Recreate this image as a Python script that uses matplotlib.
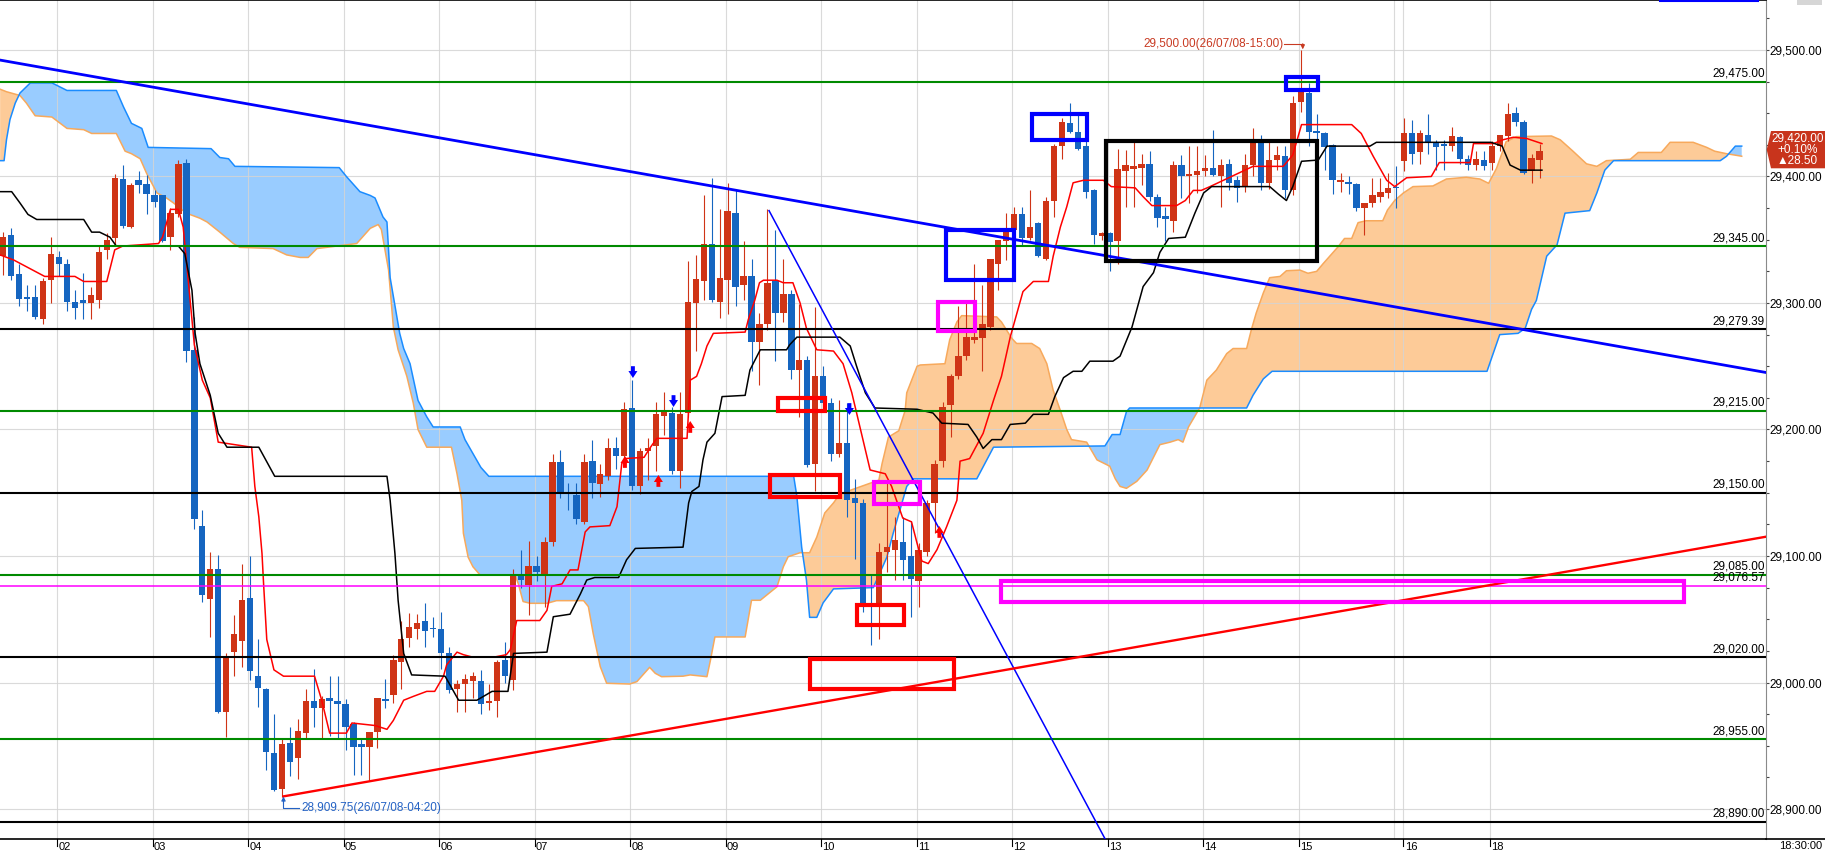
import numpy as np
import matplotlib
matplotlib.use("Agg")
import matplotlib.pyplot as plt
import matplotlib.transforms as mtransforms
from matplotlib.patches import Rectangle, Polygon
from matplotlib.lines import Line2D
from matplotlib.ticker import MultipleLocator, FuncFormatter

plt.rcParams["font.family"] = ["Liberation Sans", "DejaVu Sans"]

# 5-minute bars, 26/07/08 01:25 .. 18:30
opens = [
    29337, 29354, 29323, 29305, 29305, 29287, 29318, 29336, 29331, 29301,
    29302, 29300, 29302, 29342, 29351, 29398, 29360, 29397, 29394, 29385,
    29385, 29352, 29370, 29411, 29263, 29124, 29066, 29090, 28977, 29024,
    29033, 29067, 29005, 28995, 28944, 28916, 28952, 28940, 28960, 28985,
    28980, 28988, 28985, 28983, 28967, 28951, 28949, 28961, 28987, 28990,
    29016, 29035, 29042, 29049, 29043, 29042, 29023, 28995, 28999, 29001,
    29001, 28984, 28985, 29018, 29002, 29086, 29077, 29092, 29085, 29111,
    29174, 29150, 29148, 29127, 29175, 29157, 29163, 29185, 29179, 29217,
    29155, 29183, 29187, 29211, 29213, 29167, 29213, 29300, 29317, 29347,
    29301, 29318, 29371, 29314, 29321, 29269, 29283, 29317, 29292, 29307,
    29247, 29255, 29173, 29242, 29221, 29181, 29189, 29146, 29142, 29063,
    29063, 29103, 29105, 29111, 29100, 29080, 29103, 29142, 29175, 29219,
    29242, 29258, 29271, 29272, 29281, 29331, 29349, 29358, 29370, 29351,
    29363, 29335, 29381, 29424, 29442, 29435, 29424, 29389, 29353, 29355,
    29349, 29404, 29406, 29407, 29410, 29384, 29369, 29365, 29409, 29400,
    29401, 29404, 29407, 29400, 29410, 29397, 29392, 29409, 29428, 29395,
    29413, 29416, 29389, 29459, 29466, 29436, 29434, 29425, 29396, 29396,
    29394, 29375, 29379, 29384, 29387, 29392, 29412, 29434, 29419, 29433,
    29427, 29426, 29424, 29431, 29414, 29409, 29413, 29411, 29424, 29432,
    29450, 29443, 29404, 29413,
]
highs = [
    29356, 29359, 29331, 29314, 29314, 29320, 29352, 29341, 29335, 29310,
    29324, 29313, 29346, 29355, 29402, 29409, 29395, 29404, 29401, 29389,
    29385, 29375, 29413, 29414, 29289, 29136, 29103, 29101, 29023, 29053,
    29094, 29100, 29034, 28996, 28975, 28955, 28965, 28971, 28995, 29011,
    28989, 29005, 29005, 28987, 28969, 28955, 28961, 28988, 29003, 29022,
    29049, 29055, 29054, 29063, 29052, 29056, 29028, 29002, 29007, 29008,
    29010, 28999, 29018, 29032, 29090, 29105, 29112, 29100, 29115, 29181,
    29184, 29158, 29158, 29181, 29192, 29173, 29193, 29194, 29222, 29239,
    29185, 29193, 29222, 29230, 29218, 29230, 29333, 29338, 29385, 29399,
    29374, 29395, 29389, 29349, 29335, 29292, 29374, 29358, 29335, 29310,
    29299, 29258, 29297, 29250, 29225, 29223, 29221, 29161, 29145, 29085,
    29110, 29160, 29131, 29131, 29128, 29110, 29144, 29176, 29222, 29244,
    29298, 29300, 29331, 29314, 29335, 29350, 29371, 29376, 29376, 29389,
    29364, 29384, 29426, 29446, 29458, 29450, 29428, 29390, 29356, 29356,
    29422, 29421, 29428, 29418, 29420, 29386, 29376, 29412, 29417, 29424,
    29424, 29417, 29437, 29414, 29414, 29400, 29418, 29438, 29433, 29428,
    29424, 29424, 29464, 29500, 29474, 29449, 29435, 29426, 29403, 29400,
    29395, 29379, 29399, 29399, 29403, 29408, 29446, 29445, 29437, 29449,
    29429, 29429, 29439, 29432, 29417, 29420, 29420, 29428, 29433, 29458,
    29455, 29445, 29418, 29426,
]
lows = [
    29322, 29318, 29298, 29294, 29287, 29283, 29300, 29321, 29294, 29287,
    29287, 29287, 29296, 29335, 29346, 29359, 29359, 29387, 29370, 29376,
    29348, 29342, 29368, 29253, 29121, 29064, 29036, 28976, 28957, 29005,
    29012, 29002, 28981, 28931, 28914, 28909.75, 28926, 28924, 28955, 28965,
    28955, 28958, 28955, 28947, 28927, 28927, 28922, 28948, 28980, 28984,
    28995, 29028, 29034, 29028, 29036, 29011, 28992, 28977, 28977, 28988,
    28975, 28978, 28973, 29000, 28994, 29075, 29053, 29080, 29060, 29108,
    29146, 29136, 29125, 29125, 29146, 29147, 29160, 29169, 29171, 29152,
    29149, 29160, 29167, 29196, 29165, 29154, 29210, 29262, 29302, 29301,
    29288, 29291, 29298, 29302, 29246, 29235, 29279, 29254, 29285, 29240,
    29210, 29170, 29151, 29215, 29175, 29178, 29131, 29098, 29056, 29030,
    29034, 29087, 29081, 29081, 29052, 29060, 29100, 29118, 29170, 29194,
    29240, 29255, 29268, 29246, 29279, 29310, 29334, 29356, 29345, 29350,
    29336, 29334, 29368, 29414, 29434, 29421, 29383, 29347, 29350, 29325,
    29331, 29376, 29376, 29393, 29381, 29360, 29349, 29356, 29383, 29379,
    29387, 29400, 29400, 29376, 29389, 29380, 29388, 29400, 29389, 29390,
    29405, 29383, 29385, 29451, 29424, 29425, 29405, 29386, 29388, 29386,
    29373, 29354, 29376, 29380, 29383, 29375, 29404, 29410, 29410, 29418,
    29405, 29405, 29420, 29410, 29405, 29405, 29405, 29405, 29420, 29428,
    29440, 29402, 29395, 29399,
]
closes = [
    29352, 29321, 29303, 29303, 29289, 29317, 29339, 29331, 29301, 29296,
    29300, 29306, 29340, 29350, 29399, 29361, 29393, 29393, 29386, 29380,
    29349, 29371, 29410, 29262, 29129, 29069, 29090, 28977, 29020, 29038,
    29065, 29009, 28996, 28945, 28915, 28951, 28937, 28962, 28985, 28980,
    28987, 28985, 28983, 28965, 28949, 28949, 28961, 28988, 28985, 29018,
    29034, 29044, 29047, 29041, 29042, 29023, 28994, 28999, 29003, 29005,
    28983, 28985, 29016, 29005, 29086, 29081, 29092, 29087, 29111, 29174,
    29150, 29149, 29129, 29174, 29158, 29165, 29185, 29179, 29216, 29155,
    29183, 29185, 29212, 29214, 29167, 29212, 29301, 29319, 29347, 29302,
    29320, 29373, 29313, 29321, 29269, 29283, 29316, 29292, 29307, 29247,
    29255, 29172, 29242, 29221, 29181, 29189, 29144, 29142, 29063, 29060,
    29103, 29107, 29113, 29097, 29082, 29105, 29142, 29173, 29218, 29242,
    29258, 29273, 29273, 29283, 29335, 29350, 29357, 29370, 29351, 29360,
    29337, 29381, 29424, 29443, 29435, 29422, 29388, 29354, 29355, 29348,
    29406, 29409, 29408, 29410, 29384, 29367, 29366, 29409, 29400, 29402,
    29404, 29407, 29401, 29409, 29395, 29391, 29409, 29428, 29395, 29413,
    29417, 29389, 29458, 29467, 29435, 29434, 29423, 29397, 29397, 29394,
    29375, 29379, 29385, 29388, 29391, 29391, 29434, 29418, 29434, 29427,
    29423, 29424, 29432, 29414, 29409, 29414, 29408, 29424, 29433, 29449,
    29443, 29403, 29415, 29420,
]

hour_labels = ["02", "03", "04", "05", "06", "07", "08", "09", "10",
               "11", "12", "13", "14", "15", "16", "18"]
hour_bars = [6.75, 18.75, 30.75, 42.75, 54.75, 66.75, 78.75, 90.75, 102.75,
             114.75, 126.75, 138.75, 150.75, 162.75, 175.9, 186.75]

# ichimoku lines (bar, price)
tenkan_bars = [-0.4, 1.3, 4, 5.2, 9, 10.1, 13, 14, 15, 19.5, 20, 21, 22, 22.6, 24, 25, 26, 27,
               31.2, 31.6, 32.1, 32.5, 32.7, 33.1, 34, 35.2, 39.1, 40, 41, 43.1, 43.8, 46.7,
               48.2, 49, 50.3, 51.5, 53.2, 54.2, 55.3, 55.7, 57, 57.8, 59, 61.6, 63.2, 63.7,
               64.5, 67.4, 68.3, 68.9, 70.2, 71.2, 72.2, 73.1, 73.7, 76.2, 77.1, 77.7, 78.1,
               80.5, 81.2, 82.1, 85.9, 86.3, 87.1, 87.7, 88.4, 89.2, 93.2, 93.6, 94.4, 95,
               95.5, 97.2, 98, 99.2, 100.1, 100.9, 102.2, 104.3, 105.5, 106.6, 108.9, 110.8,
               111.6, 113, 114.1, 114.8, 115.4, 116.2, 117.3, 118.5, 119.8, 120.2, 121.4, 122,
               123.1, 124.4, 125.4, 126.5, 128.1, 129.4, 131.3, 131.9, 132.8, 133.6, 134.4,
               135.7, 138.2, 139.2, 142.2, 143.2, 144.3, 147.4, 148.5, 149.5, 150.5, 151.6,
               157, 160.8, 162, 163.1, 169.4, 170.6, 172.1, 173.8, 174.8, 176.3, 179.4, 180.4,
               184.3, 184.7, 187.2, 188.4, 189.7, 191.4, 193.3]
tenkan_vals = [29338, 29334, 29325, 29321, 29321, 29317, 29317, 29342, 29345, 29347, 29352,
               29374, 29374, 29360, 29267, 29239, 29225, 29190, 29186, 29155, 29131, 29102,
               29078, 29034, 29010, 29005, 29005, 28986, 28960, 28960, 28968, 28966, 28963,
               28970, 28986, 28989, 28993, 28993, 29005, 29014, 29024, 29022, 29020, 29020,
               29022, 29026, 29049, 29049, 29057, 29076, 29078, 29089, 29089, 29119, 29123,
               29124, 29139, 29173, 29177, 29178, 29185, 29193, 29193, 29239, 29242, 29252,
               29266, 29276, 29277, 29287, 29302, 29316, 29318, 29318, 29316, 29316, 29300,
               29280, 29263, 29262, 29252, 29229, 29168, 29165, 29155, 29130, 29127, 29110,
               29096, 29094, 29105, 29123, 29144, 29175, 29177, 29184, 29197, 29223, 29242,
               29273, 29309, 29317, 29317, 29337, 29360, 29376, 29395, 29397, 29397, 29392,
               29391, 29384, 29377, 29377, 29381, 29389, 29389, 29392, 29408, 29408, 29417,
               29441, 29441, 29434, 29416, 29397, 29392, 29399, 29400, 29411, 29411, 29426,
               29426, 29429, 29431, 29430, 29426]

kijun_bars = [-0.4, 1.05, 2.1, 3.1, 4.2, 10.1, 11.1, 12.1, 13.4, 14.2, 22, 22.8, 23.7, 24.1,
              24.7, 26, 27, 28.1, 32.1, 34.1, 48.2, 48.6, 49.2, 49.6, 50.3, 51.3, 55.5, 57.2,
              59.5, 61.4, 63.4, 64.1, 68.3, 69.1, 71.2, 72.5, 73.3, 74.3, 77.3, 78.3, 79.4,
              85.4, 86.1, 86.5, 87.4, 87.9, 88.4, 89.4, 90.3, 93.2, 93.8, 94.2, 95.1, 98.4,
              98.8, 99.7, 105.1, 106.4, 107.2, 108.3, 109.5, 114.8, 116.8, 117.9, 121.2,
              122.3, 123.1, 124.2, 125.4, 126.5, 128.4, 129.4, 131.3, 132.1, 133.2, 134.4,
              135.5, 136.5, 139.4, 140.3, 141.8, 143.2, 144.5, 145.3, 146.4, 148.5, 149.7,
              150.8, 151.8, 159.1, 160.2, 161.2, 162, 163.1, 165.2, 166.3, 171.7, 172.5,
              186.9, 188.3, 189.3, 190.6, 193.3]
kijun_vals = [29388, 29388, 29379, 29370, 29366, 29366, 29356, 29356, 29352, 29345, 29345,
              29339, 29310, 29276, 29252, 29227, 29197, 29186, 29186, 29163, 29163, 29144,
              29102, 29065, 29023, 29006, 29005, 28986, 28986, 28993, 28993, 29023, 29024,
              29052, 29054, 29070, 29081, 29083, 29083, 29097, 29106, 29107, 29142, 29151,
              29155, 29176, 29190, 29197, 29226, 29227, 29247, 29252, 29263, 29263, 29267,
              29273, 29273, 29266, 29250, 29229, 29217, 29216, 29213, 29205, 29204, 29194,
              29185, 29192, 29192, 29204, 29205, 29212, 29212, 29226, 29241, 29246, 29246,
              29254, 29254, 29258, 29281, 29313, 29324, 29340, 29351, 29352, 29371, 29387,
              29392, 29392, 29386, 29381, 29392, 29412, 29413, 29424, 29424, 29427, 29427,
              29424, 29409, 29405, 29405]

span_a_bars = [-0.4, 0.4, 2.1, 2.9, 4, 6.1, 8, 10.1, 11.1, 14.2, 15.3, 16.1, 17.2, 18, 19.3,
               20.5, 21.4, 23, 24.7, 25.6, 27.2, 28.9, 29.7, 33.9, 35.6, 37.3, 38.3, 39.4,
               44.4, 46.1, 47.1, 47.5, 48.4, 49, 49.6, 50.7, 51.5, 52.1, 53.2, 56.3, 57, 57.6,
               57.8, 58.4, 59, 59.9, 64.3, 64.7, 65.3, 66.2, 68.3, 69.5, 72.9, 73.5, 74.1, 75,
               75.8, 78.7, 79.6, 81.2, 81.9, 82.7, 85.4, 86.3, 88.4, 88.8, 89.4, 93.2, 94,
               95.1, 97.2, 98, 98.6, 100.1, 101.3, 102.2, 103.2, 104.3, 105.1, 110, 110.4,
               111.2, 112.5, 113.3, 113.5, 114.8, 115.2, 118.3, 118.9, 119.8, 120.4, 124.8,
               125.4, 126.7, 127.3, 129.2, 130.2, 131.1, 131.9, 132.8, 133.6, 134.2, 136.1,
               137.4, 139, 139.7, 140.3, 141.1, 142.4, 143.7, 145.3, 146.6, 147.6, 148.2,
               148.9, 150.3, 151.2, 152.4, 153.7, 154.5, 156.2, 156.8, 157.4, 158.3, 159.1,
               160.4, 161.2, 162.9, 163.9, 165, 165.8, 167.7, 168.5, 169.4, 170.2, 171.2,
               173.3, 173.9, 174.8, 175.9, 177.1, 179.6, 181.3, 183.8, 185.5, 186.6, 187.6,
               188.8, 190.1, 194.5, 195.6, 197.2, 198.9, 200.2, 201.4, 204.4, 205.4, 208.3,
               209.4, 212.3, 214, 215, 216.5, 218.4]
span_a_vals = [29469, 29467, 29464, 29458, 29448, 29447, 29438, 29437, 29434, 29434, 29420,
               29418, 29414, 29402.5, 29387, 29383, 29379, 29371, 29367, 29364, 29356, 29347,
               29344, 29343, 29338, 29336, 29336, 29343, 29347, 29359, 29362, 29358, 29326,
               29281, 29263, 29242, 29221, 29200, 29186, 29186, 29165, 29144, 29118, 29099,
               29091.5, 29085, 29085, 29078, 29064, 29062.6, 29062.6, 29064.7, 29064.7,
               29060, 29039, 29012.5, 28999.4, 28998.8, 29000.7, 29012, 29007.3, 29004.6,
               29005, 29006, 29004.6, 29016.4, 29036, 29036, 29065, 29065, 29075.7, 29091.5,
               29099.4, 29102.6, 29102.6, 29115, 29134, 29142, 29149, 29160, 29173, 29194,
               29199, 29215, 29229, 29250, 29251, 29252, 29271, 29285, 29290, 29289, 29285,
               29272, 29268, 29268, 29264, 29252, 29231, 29215, 29200, 29192, 29190, 29176,
               29171, 29161, 29155, 29153.5, 29159, 29168, 29188, 29190, 29192, 29190, 29202,
               29217, 29239, 29247, 29260, 29264, 29264, 29279, 29292, 29308, 29320, 29321,
               29325.5, 29326, 29323.5, 29325, 29331, 29344.5, 29351, 29351, 29363.5, 29365,
               29365, 29373.5, 29381, 29387, 29392, 29392.5, 29398, 29399.4, 29398, 29394.6,
               29406.5, 29427.5, 29431.5, 29432, 29429, 29420, 29410, 29408, 29412.5, 29413.6,
               29419, 29419, 29427, 29427, 29423, 29420, 29418, 29416]

span_b_bars = [-0.4, 0.1, 0.4, 0.84, 1.5, 2.1, 3.4, 6.1, 8, 14.2, 15.1, 16.1, 17.4, 18.2,
               26.1, 27.2, 28.3, 29.1, 42.2, 43.1, 44.8, 46.1, 46.7, 47.7, 48.2, 48.6, 49.8,
               50.3, 51.1, 52.1, 53.2, 54, 57.4, 58, 59, 60, 61, 99.3, 99.7, 100.3, 100.9,
               101.3, 102.2, 103, 104.3, 109.3, 111, 111.8, 113.5, 114.3, 122.3, 124.4, 138.4,
               139.3, 140.3, 141.1, 141.5, 156.2, 157, 158.3, 159.4, 186.4, 188, 190.3, 191.2,
               192, 192.6, 193.9, 195.2, 196.2, 199.3, 200.2, 201.2, 202.3, 215.7, 216.5,
               217.6, 218.4]
span_b_vals = [29412.5, 29412.5, 29429, 29445, 29458, 29466, 29474, 29474, 29468, 29468,
               29455, 29442, 29438, 29423, 29422, 29415, 29414, 29408, 29407, 29400, 29388,
               29385, 29383, 29368, 29364, 29320, 29276, 29264, 29252, 29223, 29210, 29202,
               29202, 29192, 29181, 29170, 29163, 29163, 29147, 29107, 29081, 29051.5,
               29051.5, 29063, 29074, 29075, 29099, 29118, 29155, 29161, 29161, 29186, 29187,
               29196, 29196, 29214, 29217, 29217, 29227, 29240, 29246, 29246, 29275, 29276,
               29280, 29295, 29302, 29337, 29346, 29371, 29373, 29387, 29405, 29412.5,
               29412.5, 29416, 29424, 29424]

green_levels = [29475, 29345, 29215, 29085, 28955]
black_levels = [29279.39, 29150, 29020, 28890]
magenta_levels = [29076.57]

# drawn trend lines (bar, price)
resist_bars, resist_vals = [-0.4, 221.5], [29492, 29245]
drop_bars, drop_vals = [96.2, 141.0], [29373, 28846]
support_bars, support_vals = [35.2, 221.5], [28910, 29115.3]

# drawn boxes: bar0, bar1, price low, price high
blue_boxes = [(161.2, 165.2, 29468, 29479), (129.2, 136.2, 29428.5, 29449),
              (118.4, 127.0, 29318, 29358)]
black_boxes = [(138.5, 165.1, 29333.5, 29428)]
red_boxes = [(97.3, 103.2, 29215, 29224.5), (96.3, 105.1, 29146.5, 29164),
             (107.3, 113.2, 29045.5, 29061.5), (101.3, 119.4, 28994.5, 29018.5)]
magenta_boxes = [(117.4, 122.1, 29277.5, 29301), (109.4, 115.2, 29141, 29158.5),
                 (125.4, 211.2, 29064, 29080.5)]

up_sig_bars, up_sig_vals = [78.1, 82.3, 86.3, 117.6], [29179, 29164, 29206.7, 29123.7]
down_sig_bars, down_sig_vals = [79.1, 84.2, 106.3], [29240.7, 29217.8, 29211.5]

UP = "#cf3416"
DOWN = "#1565c0"
FS = 8.5

fig = plt.figure(figsize=(18.25, 8.57), dpi=100)
ax = fig.add_axes([0, 18 / 857, 1766 / 1825, 839 / 857])
ax.set_xlim(-0.415, 221.45)
ax.set_ylim(28876.3, 29539.5)

# grid
for k in range(16):
    ax.axvline(6.75 + 12 * k, color="#d4d4d4", lw=0.8, zorder=1.5, alpha=0.85)
ax.axvline(175.9, color="#d4d4d4", lw=0.8, zorder=1.5, alpha=0.85)
for p in range(28900, 29600, 100):
    ax.axhline(p, color="#d4d4d4", lw=0.8, zorder=1.5, alpha=0.85)

# cloud
gx = np.linspace(span_a_bars[0], span_a_bars[-1], 5000)
sa = np.interp(gx, span_a_bars, span_a_vals)
sb = np.interp(gx, span_b_bars, span_b_vals)
ax.fill_between(gx, sa, sb, where=sa >= sb, interpolate=True, color="#fdcb98", lw=0, zorder=1)
ax.fill_between(gx, sa, sb, where=sb > sa, interpolate=True, color="#99ccff", lw=0, zorder=1)
ax.plot(span_a_bars, span_a_vals, color="#f7a95c", lw=1.1, zorder=2)
ax.plot(span_b_bars, span_b_vals, color="#1a8cff", lw=1.1, zorder=2)

# candles
o = np.array(opens, float)
h = np.array(highs, float)
l = np.array(lows, float)
c = np.array(closes, float)
x = np.arange(len(o))
cols = np.where(c >= o, UP, DOWN)
ax.vlines(x, l, h, colors=cols, lw=0.8, zorder=3)
ax.bar(x, np.maximum(np.abs(c - o), 1.0), bottom=np.minimum(o, c), width=0.8,
       color=cols, linewidth=0, zorder=3.1)

ax.plot(tenkan_bars, tenkan_vals, color="#ff0000", lw=1.1, zorder=4)
ax.plot(kijun_bars, kijun_vals, color="black", lw=1.1, zorder=4)

# level lines + labels
lab_tr = mtransforms.blended_transform_factory(ax.transAxes, ax.transData) + \
    mtransforms.ScaledTranslation(-0.01, 0.02, fig.dpi_scale_trans)
for levels, col, lw in [(green_levels, "#008a00", 1.5), (black_levels, "black", 1.5),
                        (magenta_levels, "#ff00ff", 1.1)]:
    for lv in levels:
        ax.axhline(lv, color=col, lw=lw, zorder=5)
        ax.text(1.0, lv, f"{lv:,.2f}", transform=lab_tr, ha="right", va="bottom",
                fontsize=FS, color="black", zorder=9)

# trend lines
ax.plot(resist_bars, resist_vals, color="#0000ff", lw=2.0, zorder=6)
ax.plot(drop_bars, drop_vals, color="#0000ff", lw=1.1, zorder=6)
ax.plot(support_bars, support_vals, color="#ff0000", lw=1.7, zorder=6)

# boxes
for boxes, col in [(blue_boxes, "#0000ff"), (black_boxes, "black"),
                   (red_boxes, "#ff0000"), (magenta_boxes, "#ff00ff")]:
    for b0, b1, p0, p1 in boxes:
        ax.add_patch(Rectangle((b0, p0), b1 - b0, p1 - p0, fill=False, edgecolor=col,
                               lw=3.0, zorder=7, joinstyle="miter"))

# signal arrows
arrow_kw = dict(arrowstyle="simple,head_length=0.5,head_width=0.65,tail_width=0.28",
                mutation_scale=10, shrinkA=0, shrinkB=0, lw=0)
for bx, pv in zip(up_sig_bars, up_sig_vals):
    ax.annotate("", xy=(bx, pv), xytext=(0, -8.5), textcoords="offset points",
                arrowprops=dict(color="#ff0000", **arrow_kw), zorder=8)
for bx, pv in zip(down_sig_bars, down_sig_vals):
    ax.annotate("", xy=(bx, pv), xytext=(0, 8.5), textcoords="offset points",
                arrowprops=dict(color="#0000ff", **arrow_kw), zorder=8)

# high / low notes
hi_col = "#c83a22"
ax.text(160.9, 29504.7, "29,500.00(26/07/08-15:00)", ha="right", va="center",
        fontsize=FS, color=hi_col, zorder=9)
ax.plot([160.95, 163.25], [29504.7, 29504.7], color=hi_col, lw=0.8, zorder=9)
ax.annotate("", xy=(163.25, 29500.5), xytext=(163.25, 29504.9),
            arrowprops=dict(arrowstyle="-|>", mutation_scale=6, color=hi_col, lw=0.8,
                            shrinkA=0, shrinkB=0), zorder=9)
lo_col = "#2462c4"
ax.plot([35.2, 35.2, 37.1], [28907, 28900.8, 28900.8], color=lo_col, lw=0.8, zorder=9)
ax.annotate("", xy=(35.2, 28909.9), xytext=(35.2, 28904.5),
            arrowprops=dict(arrowstyle="-|>", mutation_scale=6, color=lo_col, lw=0.8,
                            shrinkA=0, shrinkB=0), zorder=9)
ax.text(37.4, 28901, "28,909.75(26/07/08-04:20)", ha="left", va="center",
        fontsize=FS, color=lo_col, zorder=9)

# axes frame
ax.spines["left"].set_visible(False)
ax.spines["top"].set_color("black")
ax.spines["top"].set_linewidth(1.2)
ax.spines["bottom"].set_color("black")
ax.spines["bottom"].set_linewidth(1.2)
ax.spines["right"].set_color("#8a8a8a")
ax.spines["right"].set_linewidth(0.8)

ax.yaxis.tick_right()
ax.yaxis.set_major_locator(MultipleLocator(100))
ax.yaxis.set_minor_locator(MultipleLocator(25))
ax.yaxis.set_major_formatter(FuncFormatter(lambda v, _: f"{v:,.2f}"))
ax.tick_params(axis="y", which="both", length=2.2, width=0.8, color="#444444")
ax.tick_params(axis="y", which="major", labelsize=FS, pad=0.6)

ax.set_xticks([])
xt = mtransforms.blended_transform_factory(ax.transData, ax.transAxes)
for pos, lab in zip(hour_bars, hour_labels):
    ax.plot([pos, pos], [0, -6.5 / 839], transform=xt, color="black", lw=0.8,
            clip_on=False)
    ax.text(pos + 0.15, -3.0 / 839, lab, transform=xt, ha="left", va="top",
            fontsize=8)

fig.add_artist(Line2D([1766 / 1825, 1], [18 / 857, 18 / 857], color="black", lw=1.2,
                      transform=fig.transFigure))
fig.text(1822 / 1825, 1 - 846 / 857, "18:30:00", ha="right", va="center", fontsize=8)


# last price tag
def fp(px, py):
    return (px / 1825, 1 - py / 857)


tag = Polygon([fp(1766.7, 149.7), fp(1771, 131), fp(1825, 131), fp(1825, 168.3),
               fp(1771, 168.3)], closed=True, transform=fig.transFigure,
              facecolor="#c8341c", edgecolor="none")
fig.add_artist(tag)
last_px = closes[-1]
prev_px = 29391.5
for ty, txt in [(138.5, f"{last_px:,.2f}"),
                (150.0, f"+{(last_px - prev_px) / prev_px * 100:.2f}%"),
                (161.5, f"\u25b2{last_px - prev_px:.2f}")]:
    fig.text(1797.5 / 1825, 1 - ty / 857, txt, ha="center", va="center", fontsize=FS,
             color="white", family=["Liberation Sans", "DejaVu Sans"])

fig.add_artist(Line2D([1660 / 1825, 1758 / 1825], [1 - 0.8 / 857] * 2, color="#0000ff",
                      lw=1.5, transform=fig.transFigure))
fig.add_artist(Polygon([fp(1797, 0), fp(1822, 0), fp(1822, 5), fp(1797, 5)],
                       closed=True, transform=fig.transFigure, facecolor="#d6d6d6",
                       edgecolor="none"))

fig.savefig("out.png", dpi=100)
